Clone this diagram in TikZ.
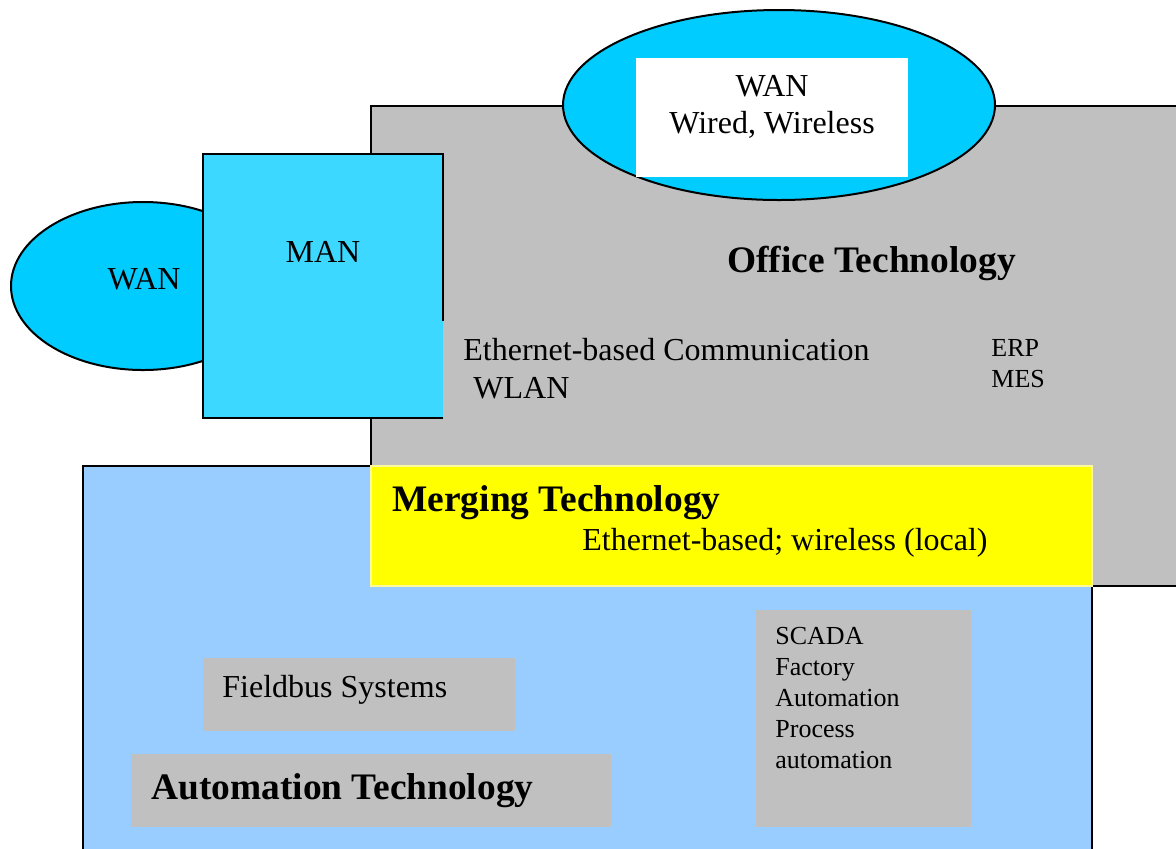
\documentclass[tikz,border=0pt]{standalone}
\usepackage{fontspec}
\setmainfont{Liberation Serif}
\definecolor{officegray}{HTML}{C0C0C0}
\definecolor{wancyan}{HTML}{00CCFF}
\definecolor{mancyan}{HTML}{3DD8FF}
\definecolor{autoblue}{HTML}{99CCFF}
\definecolor{mergeyellow}{HTML}{FFFF00}
\tikzset{
  frame/.style={draw=black, line width=1pt},
  txt/.style={inner sep=0pt, anchor=base west, font=\fontsize{16}{19}\selectfont},
  ctxt/.style={inner sep=0pt, anchor=base, font=\fontsize{16}{19}\selectfont},
  bigtxt/.style={inner sep=0pt, anchor=base west, font=\fontsize{18.7}{22}\selectfont\bfseries},
  smalltxt/.style={inner sep=0pt, anchor=north west, align=left,
    font=\fontsize{13}{15.5}\selectfont},
}
\begin{document}
\begin{tikzpicture}[x=0.5pt, y=-0.5pt]
\useasboundingbox (0,0) rectangle (1176,848);
\clip (0,0) rectangle (1176,848);

% office technology area
\fill[officegray] (371,106) rectangle (1190,586);
\draw[frame] (371,466) -- (371,106) -- (1190,106);
\draw[frame] (1092,586) -- (1190,586);

% wide area network at the top
\draw[frame, fill=wancyan] (779,105) ellipse [x radius=216, y radius=95];
\fill[white] (636,58) rectangle (908,177);
\node[ctxt] (wantop) at (772,96) {WAN};
\node[ctxt] (wired) at (772,133) {Wired, Wireless};

% wide area network on the left and metropolitan network
\draw[frame, fill=wancyan] (143,286) ellipse [x radius=132, y radius=84];
\node[ctxt] (wanleft) at (144,289) {WAN};
\fill[mancyan] (203,154) rectangle (443,418);
\draw[frame] (443,321) -- (443,154) -- (203,154) -- (203,418) -- (443,418);
\node[ctxt] (man) at (323,262) {MAN};

% office texts
\node[bigtxt] (office) at (727,272) {Office Technology};
\node[txt] (ethcomm) at (463,360) {Ethernet-based Communication};
\node[txt] (wlan) at (473,398) {WLAN};
\node[smalltxt] (erp) at (991,339) {ERP\\MES};

% automation technology area
\draw[frame, fill=autoblue] (83,466) rectangle (1092,870);

% merging technology band
\fill[mergeyellow] (371,466) rectangle (1092,586);
\draw[yellow!40!white, line width=0.6pt] (371,466) rectangle (1092,586);
\node[bigtxt] (merging) at (392,511) {Merging Technology};
\node[txt] (ethwless) at (582,550) {Ethernet-based; wireless (local)};

% automation boxes
\fill[officegray] (203,658) rectangle (515,731);
\node[txt] (fieldbus) at (222,697) {Fieldbus Systems};
\fill[officegray] (131,754) rectangle (611,827);
\node[bigtxt] (automation) at (151,799) {Automation Technology};
\fill[officegray] (756,610) rectangle (971,827);
\node[smalltxt] (scada) at (775,627) {SCADA\\Factory\\Automation\\Process\\automation};
\end{tikzpicture}
\end{document}
